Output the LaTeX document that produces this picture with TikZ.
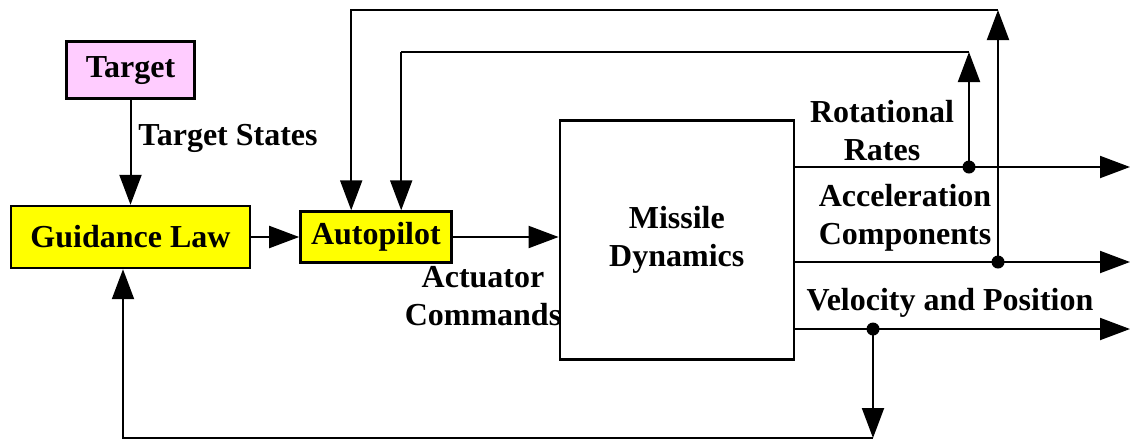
\documentclass[tikz,border=0pt]{standalone}
\usepackage{fontspec}
\setmainfont{Liberation Serif}
\usetikzlibrary{arrows.meta,positioning,calc}
\definecolor{boxyellow}{RGB}{255,255,0}
\definecolor{targetpink}{RGB}{255,204,255}

\begin{document}
\begin{tikzpicture}[
  x=0.5pt, y=-0.5pt,
  block/.style={
    rectangle, draw, line width=1.2pt,
    inner sep=0pt, align=center,
    font=\fontsize{16}{19}\selectfont\bfseries
  },
  sig/.style={font=\fontsize{16}{19}\selectfont\bfseries, align=center, inner sep=0pt},
  arrow/.style={-{Triangle[length=15pt,width=11pt]}, line width=1pt},
  wire/.style={line width=1pt},
  thinwire/.style={line width=0.6pt},
  junction/.style={circle, fill, inner sep=0pt, minimum size=6.5pt}
]
\useasboundingbox (0,0) rectangle (1131,441);

\node[block, fill=boxyellow, minimum width=119.5pt, minimum height=31pt]
  (gl) at (130.5,237) {Guidance Law};
\node[block, fill=targetpink, minimum width=64pt, minimum height=28.5pt,
      above=52.5pt of gl] (target) {Target};
\node[block, fill=boxyellow, minimum width=75.5pt, minimum height=25.5pt,
      right=24pt of gl] (ap) {Autopilot};
\node[block, minimum width=117pt, minimum height=119.5pt,
      right=53pt of ap, yshift=-1.5pt] (md) {Missile\\Dynamics};

% junctions and corners
\coordinate (rr)   at (969,167);
\coordinate (ac)   at (998,262);
\coordinate (vp)   at (873,329);
\coordinate (outR) at (1130,0);
\coordinate (topo) at (998,10);
\coordinate (topi) at (969,52);
\coordinate (low)  at (873,438);
\coordinate (apa)  at ($(ap.north west)+(52,0)$);
\coordinate (apb)  at ($(ap.north west)+(102,0)$);
\coordinate (glb)  at ($(gl.south)+(-7.5,0)$);

% forward path
\draw[arrow] (target) -- (target |- gl.north);
\draw[arrow] (gl.east) -- (ap.west |- gl.east);
\draw[arrow] (ap.east) -- (md.west |- ap.east);

\foreach \port in {rr,ac,vp}
  \draw[arrow] (md.east |- \port) -- (outR |- \port);

% feedback loops
\draw[arrow] (ac) -- (topo);
\draw[arrow] (topo) -- (topo -| apa) -- (apa);
\draw[arrow] (rr) -- (topi);
\draw[thinwire] (topi) -- (topi -| apb);
\draw[arrow] (topi -| apb) -- (apb);
\draw[arrow] (vp) -- (low);
\draw[arrow] (low) -- (low -| glb) -- (glb);

\foreach \port in {rr,ac,vp}
  \node[junction] (\port dot) at (\port) {};

% signal labels
\node[sig] (tslabel)  at (228,138) {Target States};
\node[sig] (aclabel)  at (483,296) {Actuator\\Commands};
\node[sig] (rrlabel)  at (882,131) {Rotational\\Rates};
\node[sig] (acclabel) at (905,218) {Acceleration\\Components};
\node[sig] (vplabel)  at (950,303) {Velocity and Position};
\end{tikzpicture}
\end{document}
